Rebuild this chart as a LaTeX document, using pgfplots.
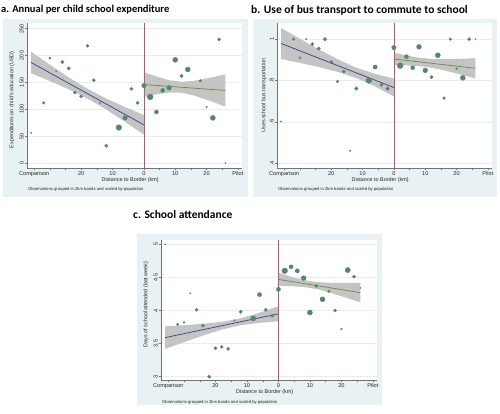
\documentclass[border=0pt]{standalone}
\usepackage{pgfplots}
\pgfplotsset{compat=1.18}
\usepackage{pgfplotstable}
\usepackage{fontspec}
\setmainfont{Liberation Sans}
\newfontfamily\titlefont{Carlito}
\definecolor{bgreg}{RGB}{232,241,243}
\definecolor{mk}{RGB}{86,134,114}
\definecolor{fitl}{RGB}{55,65,135}
\definecolor{fitr}{RGB}{105,140,60}
\definecolor{vline}{RGB}{188,88,100}
\definecolor{band}{RGB}{196,196,196}

\pgfplotstableread{
x y s
-36 56 0.6
-32 112 1.3
-30 195 1.1
-28 171 0.6
-26 188 1.7
-24 176 1.7
-22 131 1.6
-20 124 1.6
-18 218 1.4
-16 154 1.6
-14 112 0.7
-12 32 1.7
-8 66 2.8
-6 84 2.3
-4 138 1.6
-2 112 1.6
0 144 2.2
2 123 2.9
4 95 2.0
6 135 2.0
8 140 2.3
10 192 2.5
12 162 1.7
14 174 2.5
18 153 1.3
20 104 0.8
22 84 2.5
24 230 1.5
26 0 0.6
}\dataA

\pgfplotstableread{
x y s
-36 0.602 0.6
-32 1.0 1.3
-30 0.91 1.1
-28 1.0 0.7
-26 0.976 1.6
-24 0.954 1.7
-22 1.0 1.8
-20 0.889 1.7
-18 0.795 1.3
-16 0.844 1.6
-14 0.46 0.8
-12 0.761 1.8
-8 0.80 2.8
-6 0.865 2.1
-4 0.779 1.6
-2 0.761 1.8
0 0.959 2.2
2 0.872 2.9
4 0.915 2.0
6 0.862 2.0
8 0.963 2.4
10 0.849 2.4
12 0.816 1.7
14 0.922 2.5
16 0.715 1.4
18 1.0 1.3
20 0.857 0.9
22 0.813 2.5
24 1.0 1.6
26 1.0 0.6
}\dataB

\pgfplotstableread{
x y s
-36 5.0 0.6
-32 3.79 1.3
-30 3.82 1.0
-28 4.26 0.7
-26 4.01 1.5
-24 3.77 1.6
-22 3.0 1.6
-20 3.43 1.6
-18 3.45 1.5
-16 3.42 1.6
-14 3.85 0.7
-12 3.98 1.7
-8 3.88 2.6
-6 4.24 2.1
-4 4.01 1.6
-2 3.92 1.6
0 4.32 2.1
2 4.60 2.8
4 4.66 2.0
6 4.60 2.1
8 4.49 2.4
10 3.97 2.5
12 4.37 1.6
14 4.17 2.5
16 4.29 1.3
18 4.0 1.4
20 3.72 0.9
22 4.61 2.6
24 4.51 1.5
26 4.34 0.6
}\dataC

\pgfplotsset{
  panel/.style={
    scale only axis, width=215pt, height=145pt,
    xmin=-37.3, xmax=31.3,
    axis lines*=left,
    axis line style={-, draw=black!55, line width=0.4pt},
    tick align=outside, major tick length=2pt,
    tick style={draw=black!55, line width=0.4pt},
    xtick={-35,-30,...,30},
    xticklabels={Comparison,,,20,,10,,0,,10,,20,,Pilot},
    ticklabel style={font=\fontsize{5.6}{6}\selectfont, text=black!85},
    x tick label style={inner sep=1pt},
    y tick label style={rotate=90, anchor=south, inner sep=1pt},
    ymajorgrids, grid style={draw=gray!15, line width=0.4pt},
    axis background/.style={fill=white},
    xlabel={Distance to Border (km)},
    xlabel style={font=\fontsize{5.4}{6}\selectfont, text=black!85, inner sep=0pt,
      at={(axis description cs:0.48,0)}, anchor=center, yshift=-12pt},
    ylabel style={font=\fontsize{5.4}{6}\selectfont, text=black!85, inner sep=0pt,
      anchor=center},
  },
  pts/.style={
    scatter, only marks, mark=*,
    point meta=\thisrow{s},
    scatter/use mapped color={draw=mk, fill=mk},
    visualization depends on={\thisrow{s} \as \msz},
    scatter/@pre marker code/.append style={/tikz/mark size=\msz pt},
  },
}

\begin{document}
\begin{tikzpicture}
\useasboundingbox (0pt,0pt) rectangle (500pt,413pt);
\fill[white] (0pt,0pt) rectangle (500pt,413pt);
\fill[bgreg] (3pt,216pt) rectangle (248pt,394pt);
\fill[bgreg] (253pt,216pt) rectangle (497pt,394pt);
\fill[bgreg] (137pt,8pt) rectangle (382pt,179pt);

\node[anchor=west, inner sep=0pt] at (1pt,403pt) {\titlefont\bfseries\fontsize{10.5}{12}\selectfont a. Annual per child school expenditure};
\node[anchor=west, inner sep=0pt] at (251pt,403pt) {\titlefont\bfseries\fontsize{11.5}{13}\selectfont b. Use of bus transport to commute to school};
\node[anchor=west, inner sep=0pt] at (133pt,198pt) {\titlefont\bfseries\fontsize{11.5}{13}\selectfont c. School attendance};

\node[anchor=west, inner sep=0pt, text=black!85] at (28pt,224pt) {\fontsize{4.2}{5}\selectfont Observations grouped in 2km bands and scaled by population};
\node[anchor=west, inner sep=0pt, text=black!85] at (278pt,224pt) {\fontsize{4.2}{5}\selectfont Observations grouped in 2km bands and scaled by population};
\node[anchor=west, inner sep=0pt, text=black!85] at (162pt,11pt) {\fontsize{4.2}{5}\selectfont Observations grouped in 2km bands and scaled by population};

% Panel a
\begin{axis}[panel, at={(27pt,245pt)}, anchor=south west,
  ymin=-9.3, ymax=260.5,
  ytick={0,50,100,150,200,250}, yticklabels={0,50,100,150,200,250},
  ylabel={Expenditures on child's education (USD)},
  ylabel style={at={(axis description cs:0,0.47)}, yshift=15pt}]
\addplot[fill=band, draw=none] coordinates {
 (-36,207) (-30,182.9) (-24,159.4) (-18,138.1) (-12,119.9) (-6,104) (0,89.3)
 (0,52.7) (-6,76.6) (-12,99.5) (-18,120) (-24,137.2) (-30,152.5) (-36,167)};
\addplot[fill=band, draw=none] coordinates {
 (0,169) (4,160.9) (8,154.1) (12,151.1) (16,152.9) (20,157.2) (26,165)
 (26,105) (20,117.8) (16,125.5) (12,130.7) (8,131.1) (4,127.7) (0,123)};
\addplot[fitl, line width=0.7pt] coordinates {(-36,187) (0,71)};
\addplot[fitr, line width=0.7pt] coordinates {(0,146) (26,135)};
\addplot[vline, line width=0.8pt] coordinates {(0,-9.3) (0,260.5)};
\addplot[pts] table[x=x, y=y] {\dataA};
\end{axis}

% Panel b
\begin{axis}[panel, at={(277pt,245pt)}, anchor=south west,
  ymin=0.377, ymax=1.078,
  ytick={0.4,0.6,0.8,1}, yticklabels={.4,.6,.8,1},
  ylabel={Uses school bus transportation},
  ylabel style={at={(axis description cs:0,0.5)}, yshift=13pt}]
\addplot[fill=band, draw=none] coordinates {
 (-36,1.054) (-30,1.002) (-24,0.951) (-18,0.903) (-12,0.862) (-6,0.832) (0,0.809)
 (0,0.723) (-6,0.771) (-12,0.812) (-18,0.842) (-24,0.865) (-30,0.885) (-36,0.904)};
\addplot[fill=band, draw=none] coordinates {
 (0,0.935) (4,0.921) (8,0.910) (12,0.905) (16,0.903) (20,0.904) (26,0.908)
 (26,0.810) (20,0.834) (16,0.849) (12,0.862) (8,0.870) (4,0.873) (0,0.873)};
\addplot[fitl, line width=0.7pt] coordinates {(-36,0.979) (0,0.766)};
\addplot[fitr, line width=0.7pt] coordinates {(0,0.904) (26,0.859)};
\addplot[vline, line width=0.8pt] coordinates {(0,0.377) (0,1.078)};
\addplot[pts] table[x=x, y=y] {\dataB};
\end{axis}

% Panel c
\begin{axis}[panel, at={(161pt,33pt)}, anchor=south west,
  width=216pt, height=140pt,
  ymin=2.95, ymax=5.065,
  ytick={3,3.5,4,4.5,5}, yticklabels={3,3.5,4,4.5,5},
  ylabel={Days of school attended (last week)},
  ylabel style={at={(axis description cs:0,0.54)}, yshift=15pt}]
\addplot[fill=band, draw=none] coordinates {
 (-36,3.76) (-30,3.778) (-24,3.799) (-18,3.828) (-12,3.882) (-6,3.967) (0,4.063)
 (0,3.837) (-6,3.813) (-12,3.778) (-18,3.712) (-24,3.621) (-30,3.522) (-36,3.42)};
\addplot[fill=band, draw=none] coordinates {
 (0,4.57) (4,4.511) (8,4.461) (12,4.431) (16,4.419) (20,4.416) (26,4.417)
 (26,4.123) (20,4.216) (16,4.275) (12,4.325) (8,4.355) (4,4.367) (0,4.37)};
\addplot[fitl, line width=0.7pt] coordinates {(-36,3.59) (0,3.95)};
\addplot[fitr, line width=0.7pt] coordinates {(0,4.47) (26,4.27)};
\addplot[vline, line width=0.8pt] coordinates {(0,2.95) (0,5.065)};
\addplot[pts] table[x=x, y=y] {\dataC};
\end{axis}
\end{tikzpicture}
\end{document}
